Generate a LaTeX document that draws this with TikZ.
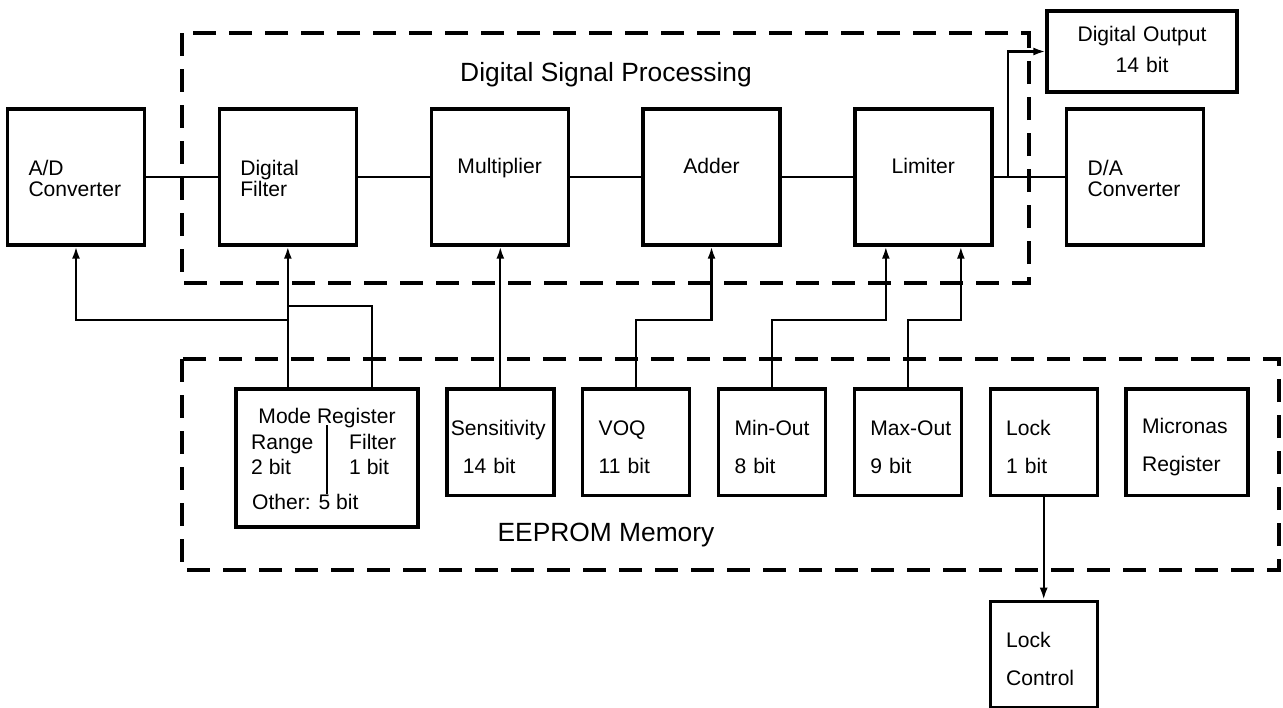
\documentclass[tikz,border=0pt]{standalone}
\usepackage{fontspec}
\setmainfont{Liberation Sans}
\usetikzlibrary{
  arrows.meta,
  positioning,
  calc,
}
\hyphenpenalty=10000
\exhyphenpenalty=10000
\tikzset{
  block/.style={
    rectangle, draw, line width=1.9pt, minimum width=2.74cm,
    minimum height=2.72cm, inner xsep=0.42cm, inner ysep=0pt,
    text width=1.9cm, align=left, text height=0.38cm,
    font=\fontsize{12}{12}\selectfont,
  },
  blockMid/.style={
    block, align=center, text depth=0.54cm,
  },
  regbox/.style={
    rectangle, draw, line width=1.9pt, minimum width=2.14cm,
    minimum height=2.13cm, inner xsep=0.32cm, inner ysep=0pt,
    text width=1.5cm, align=left, text height=0.48cm,
    font=\fontsize{12}{21.6}\selectfont,
  },
  regboxWide/.style={
    regbox, minimum width=2.44cm, text width=1.8cm,
  },
  outbox/.style={
    rectangle, draw, line width=1.9pt, minimum width=3.8cm,
    minimum height=1.62cm, inner sep=0pt, text width=3.8cm,
    align=center, text height=0.24cm,
    font=\fontsize{12}{17.6}\selectfont,
  },
  modeTxt/.style={
    inner sep=0pt, font=\fontsize{12}{12}\selectfont,
  },
  frameLabel/.style={
    inner sep=0pt, font=\fontsize{15}{15}\selectfont,
  },
  dashFrame/.style={
    line width=2.6pt, dash pattern=on 0.46cm off 0.26cm,
  },
  wire/.style={
    line width=1.2pt,
  },
  arrowSig/.style={
    -{Latex[length=2.4mm,width=1.6mm]}, line width=1.2pt,
  },
}

\begin{document}
\begin{tikzpicture}[node distance=14.3mm]
\useasboundingbox (0,0) rectangle (25.66,-14.14);

% frames
\draw[dashFrame] (3.64,-0.66) rectangle (20.58,-5.66);
\draw[dashFrame] (3.64,-7.18) rectangle (25.58,-11.40);
\node[frameLabel, anchor=base] (dspLabel) at (12.12,-1.62) {Digital Signal Processing};
\node[frameLabel, anchor=base] (memLabel) at (12.12,-10.82) {EEPROM Memory};

% signal chain
\node[block] (ad) at (1.52,-3.54) {A/D\\Converter};
\node[block, right=of ad] (filt) {Digital\\Filter};
\node[blockMid, right=of filt] (mult) {Multiplier};
\node[blockMid, right=of mult] (adder) {Adder};
\node[blockMid, right=of adder] (lim) {Limiter};
\node[block, right=of lim] (da) {D/A\\Converter};
\node[outbox] (dout) at (22.84,-1.03) {Digital Output\\14 bit};

% EEPROM registers
\node[draw, line width=1.9pt, minimum width=3.64cm, minimum height=2.76cm]
  (mode) at (6.54,-9.16) {};
\node[modeTxt, anchor=base] (modeTitle) at ($(mode.north)+(0,-0.72)$) {Mode Register};
\node[modeTxt, anchor=base west] (rangeTxt) at ($(mode.north west)+(0.33,-1.25)$) {Range};
\node[modeTxt, anchor=base west] (rangeBits) at ($(mode.north west)+(0.33,-1.75)$) {2 bit};
\node[modeTxt, anchor=base west] (filtTxt) at ($(mode.north west)+(2.29,-1.25)$) {Filter};
\node[modeTxt, anchor=base west] (filtBits) at ($(mode.north west)+(2.29,-1.75)$) {1 bit};
\node[modeTxt, anchor=base west] (otherTxt) at ($(mode.north west)+(0.35,-2.45)$) {Other: 5 bit};
\draw[wire] ($(mode.north)+(0,-0.76)$) -- ($(mode.north)+(0,-2.14)$);

\node[regbox, right=5.1mm of mode.north east, anchor=north west] (sens)
  {\hspace*{-0.24cm}Sensitivity\\14 bit};
\node[regbox, right=5.1mm of sens] (voq) {VOQ\\11 bit};
\node[regbox, right=5.1mm of voq] (minOut) {Min-Out\\8 bit};
\node[regbox, right=5.1mm of minOut] (maxOut) {Max-Out\\9 bit};
\node[regbox, right=5.1mm of maxOut] (lock) {Lock\\1 bit};
\node[regboxWide, right=5.1mm of lock] (micronas) {Micronas\\Register};
\node[regbox, below=2.05cm of lock] (lockCtl) {Lock\\Control};

% data path
\draw[wire] (ad) -- (filt);
\draw[wire] (filt) -- (mult);
\draw[wire] (mult) -- (adder);
\draw[wire] (adder) -- (lim);
\draw[wire] (lim) -- (da);
\coordinate (tap) at ($(lim.east)!0.2!(da.west)$);
\draw[arrowSig] (tap) |- (dout.west);

% control lines
\coordinate (busLow) at (0,-6.40);
\coordinate (busHigh) at (0,-6.12);
\draw[arrowSig] (filt.south |- mode.north) -- (filt.south);
\draw[arrowSig] (filt.south |- busLow) -| (ad.south);
\draw[wire] ($(mode.north)+(0.9,0)$) |- (filt.south |- busHigh);
\draw[arrowSig] (sens.north) -- (sens.north |- mult.south);
\draw[arrowSig] (voq.north) -- (voq.north |- busLow) -| (adder.south);
\draw[arrowSig] (minOut.north) -- (minOut.north |- busLow)
   -| ($(lim.south)+(-0.75,0)$);
\draw[arrowSig] (maxOut.north) -- (maxOut.north |- busLow)
   -| ($(lim.south)+(0.75,0)$);
\draw[arrowSig] (lock) -- (lockCtl);

\end{tikzpicture}
\end{document}
